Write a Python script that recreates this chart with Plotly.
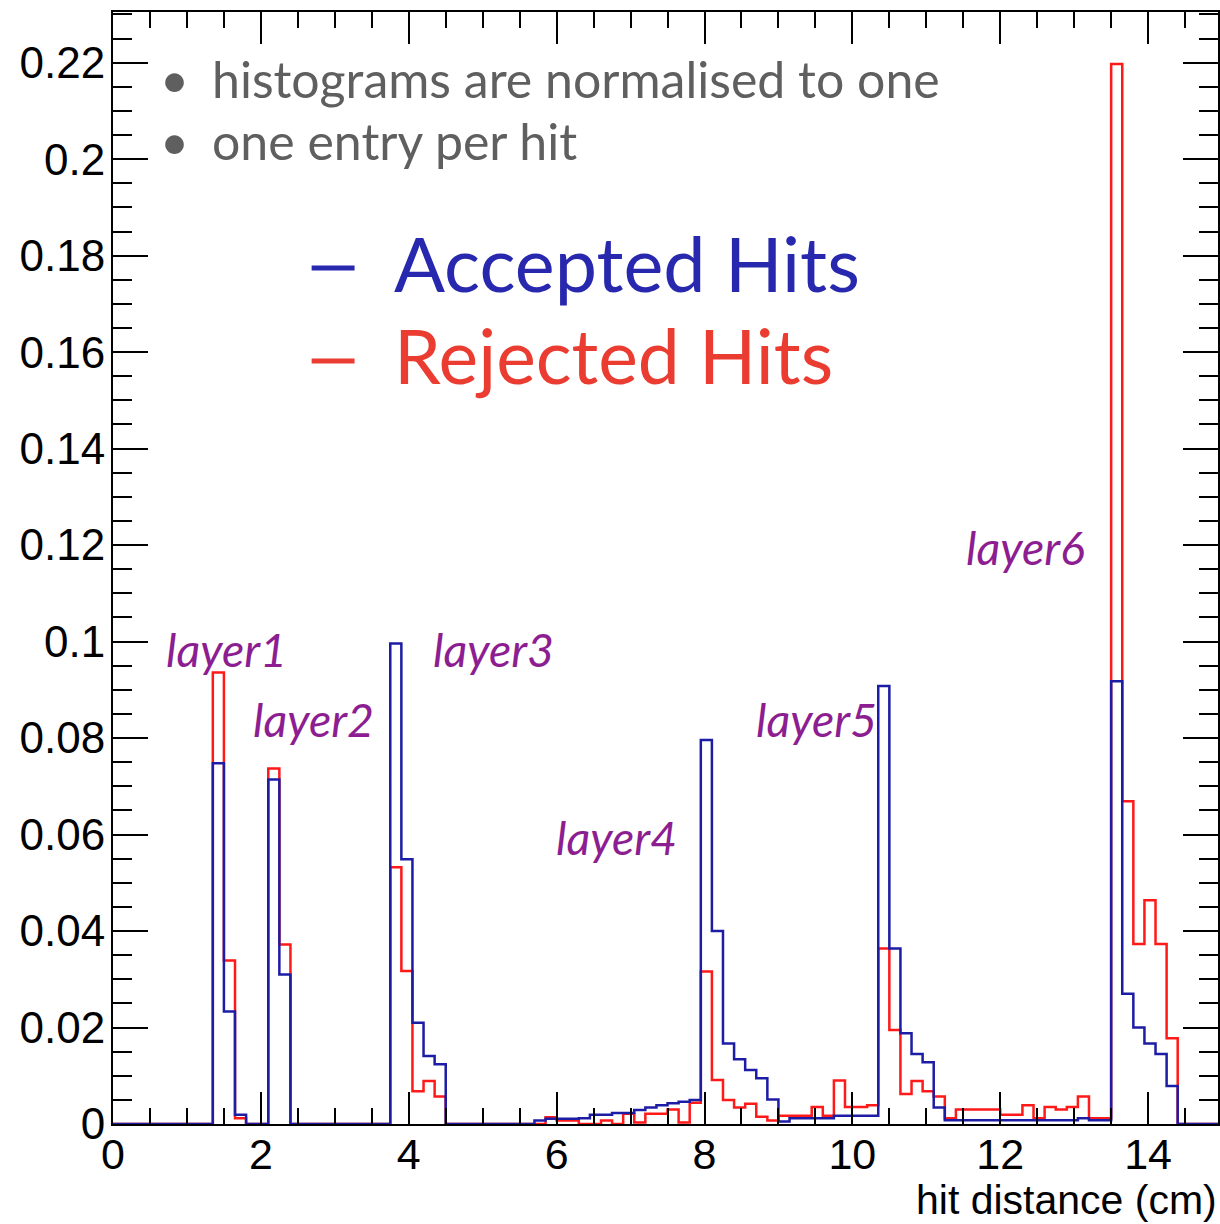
import numpy as np
import plotly.graph_objects as go

# ---------------- data (normalised histograms, 100 bins of 0.15 cm from 0 to 15 cm) ----------------
bin_width = 0.15
n_bins = 100

accepted_hits = [
    0, 0, 0, 0, 0, 0, 0, 0, 0,                      # 0-8
    0.0748, 0.0233, 0.0019,                         # 9-11  layer1
    0, 0,                                           # 12-13
    0.0714, 0.0310,                                 # 14-15 layer2
    0, 0, 0, 0, 0, 0, 0, 0, 0,                      # 16-24
    0.0996, 0.0549, 0.0210, 0.0141, 0.0124,         # 25-29 layer3
    0, 0, 0, 0, 0, 0, 0, 0,                         # 30-37
    0.0007, 0.0011, 0.0011, 0.0011, 0.0012,         # 38-42
    0.0019, 0.0019, 0.0023, 0.0023, 0.0029,         # 43-47
    0.0034, 0.0039, 0.0043, 0.0046, 0.0050,         # 48-52
    0.0796, 0.0400, 0.0167, 0.0134, 0.0112,         # 53-57 layer4
    0.0095, 0.0051, 0.0005, 0.0012, 0.0012,         # 58-62
    0.0012, 0.0012, 0.0017, 0.0017, 0.0017,         # 63-67
    0.0017, 0.0908, 0.0364, 0.0188, 0.0145,         # 68-72 layer5
    0.0128, 0.0034, 0.0008, 0.0008, 0.0008,         # 73-77
    0.0008, 0.0008, 0.0008, 0.0008, 0.0008,         # 78-82
    0.0008, 0.0008, 0.0008, 0.0008, 0.0012,         # 83-87
    0.0008, 0.0008, 0.0918, 0.0270, 0.0200,         # 88-92 layer6
    0.0167, 0.0145, 0.0079,                         # 93-95
    0, 0, 0, 0,                                     # 96-99
]

rejected_hits = [
    0, 0, 0, 0, 0, 0, 0, 0, 0,                      # 0-8
    0.0936, 0.0339, 0.0012,                         # 9-11
    0, 0,                                           # 12-13
    0.0737, 0.0372,                                 # 14-15
    0, 0, 0, 0, 0, 0, 0, 0, 0,                      # 16-24
    0.0532, 0.0317, 0.0068, 0.0089, 0.0057,         # 25-29
    0, 0, 0, 0, 0, 0, 0, 0,                         # 30-37
    0, 0.0014, 0.0007, 0.0007, 0,                   # 38-42
    0, 0.0007, 0, 0.0021, 0.0003,                   # 43-47
    0.0021, 0.0021, 0.0030, 0.0003, 0.0044,         # 48-52
    0.0316, 0.0091, 0.0050, 0.0034, 0.0042,         # 53-57
    0.0015, 0.0007, 0.0017, 0.0017, 0.0017,         # 58-62
    0.0035, 0.0017, 0.0090, 0.0035, 0.0035,         # 63-67
    0.0039, 0.0364, 0.0195, 0.0062, 0.0089,         # 68-72
    0.0068, 0.0057, 0.0012, 0.0030, 0.0030,         # 73-77
    0.0030, 0.0030, 0.0019, 0.0019, 0.0039,         # 78-82
    0.0012, 0.0035, 0.0030, 0.0035, 0.0057,         # 83-87
    0.0012, 0.0012, 0.2197, 0.0669, 0.0373,         # 88-92
    0.0464, 0.0373, 0.0178,                         # 93-95
    0, 0, 0, 0,                                     # 96-99
]

layer_labels = ["layer1", "layer2", "layer3", "layer4", "layer5", "layer6"]
notes = ["histograms are normalised to one", "one entry per hit"]
legend_names = ["Accepted Hits", "Rejected Hits"]
x_title = "hit distance (cm)"
y_tick_vals = [0, 0.02, 0.04, 0.06, 0.08, 0.1, 0.12, 0.14, 0.16, 0.18, 0.2, 0.22]
y_tick_text = ["0", "0.02", "0.04", "0.06", "0.08", "0.1", "0.12", "0.14", "0.16", "0.18", "0.2", "0.22"]

# ---------------- styling / layout ----------------
W, H = 1220, 1224
L, R, T, B = 113, 0, 12, 100
X_MAX = 14.945
Y_MAX = 0.2305

BLUE = "rgb(28,28,165)"
RED = "rgb(255,25,25)"
TXT_BLUE = "rgb(40,40,175)"
TXT_RED = "rgb(235,60,50)"
PURPLE = "rgb(140,30,145)"
GRAY = "rgb(95,95,95)"
TEXT_FONT = "Lato"
AXIS_FONT = "Liberation Sans"


def fx(px):  # pixel -> paper x
    return (px - L) / (W - L - R)


def fy(py):  # pixel -> paper y
    return (H - B - py) / (H - B - T)


edges = np.arange(n_bins + 1) * bin_width


def step_trace(vals, color, name):
    yv = list(vals) + [vals[-1]]
    return go.Scatter(x=edges, y=yv, mode="lines", line=dict(color=color, width=2.5, shape="hv"),
                      name=name, showlegend=False, hoverinfo="skip")


fig = go.Figure()
fig.add_trace(step_trace(rejected_hits, RED, legend_names[1]))
fig.add_trace(step_trace(accepted_hits, BLUE, legend_names[0]))

ann = []
shapes = []
# notes
for txt, py in zip(notes, [79, 141]):
    ann.append(dict(x=fx(175), y=fy(py), text="•", showarrow=False, xanchor="center", yanchor="middle",
                    font=dict(family=TEXT_FONT, size=50, color=GRAY)))
    ann.append(dict(x=fx(210), y=fy(py), text=txt, showarrow=False, xanchor="left", yanchor="middle",
                    font=dict(family=TEXT_FONT, size=50, color=GRAY)))
# legend text
for txt, py, dash_y, c, fs in zip(legend_names, [262, 355], [268, 361], [TXT_BLUE, TXT_RED], [75.5, 75]):
    shapes.append(dict(type="line", xref="paper", yref="paper", x0=fx(312), x1=fx(355),
                       y0=fy(dash_y), y1=fy(dash_y), line=dict(color=c, width=5)))
    ann.append(dict(x=fx(393), y=fy(py), text=txt, showarrow=False, xanchor="left", yanchor="middle",
                    font=dict(family=TEXT_FONT, size=fs, color=c)))
# layer labels
layer_pos = [(164, 649), (251, 719), (432, 649), (555, 837), (755, 719), (966, 547)]
for txt, (px, py) in zip(layer_labels, layer_pos):
    ann.append(dict(x=fx(px), y=fy(py), text="<i>%s</i>" % txt, showarrow=False, xanchor="left",
                    yanchor="middle", font=dict(family=TEXT_FONT, size=46.5, color=PURPLE)))
# x-axis title
ann.append(dict(x=1.0, y=fy(1200), text=x_title, showarrow=False, xshift=1,
                xanchor="right", yanchor="middle", font=dict(family=AXIS_FONT, size=41, color="black")))
for a in ann:
    a["xref"] = "paper"
    a["yref"] = "paper"

fig.update_layout(
    width=W, height=H,
    margin=dict(l=L, r=R, t=T, b=B, pad=0),
    paper_bgcolor="white", plot_bgcolor="white",
    annotations=ann, shapes=shapes,
    xaxis=dict(range=[0, X_MAX], showgrid=False, zeroline=False, showline=True, linecolor="black",
               linewidth=2, mirror="ticks", ticks="inside", ticklen=32, tickwidth=2, tickcolor="black",
               dtick=2, tick0=0, tickfont=dict(family=AXIS_FONT, size=43, color="black"),
               ticklabelstandoff=-9,
               minor=dict(dtick=0.5, ticks="inside", ticklen=16, tickwidth=2, tickcolor="black", showgrid=False)),
    yaxis=dict(range=[0, Y_MAX], showgrid=False, zeroline=False, showline=True, linecolor="black",
               linewidth=2, mirror="ticks", ticks="inside", ticklen=35, tickwidth=2, tickcolor="black",
               tickvals=y_tick_vals, ticktext=y_tick_text,
               tickfont=dict(family=AXIS_FONT, size=44, color="black"), ticklabelstandoff=-3,
               minor=dict(dtick=0.005, tick0=0, ticks="inside", ticklen=19, tickwidth=2, tickcolor="black",
                          showgrid=False)),
)

fig.write_html("out.html")
